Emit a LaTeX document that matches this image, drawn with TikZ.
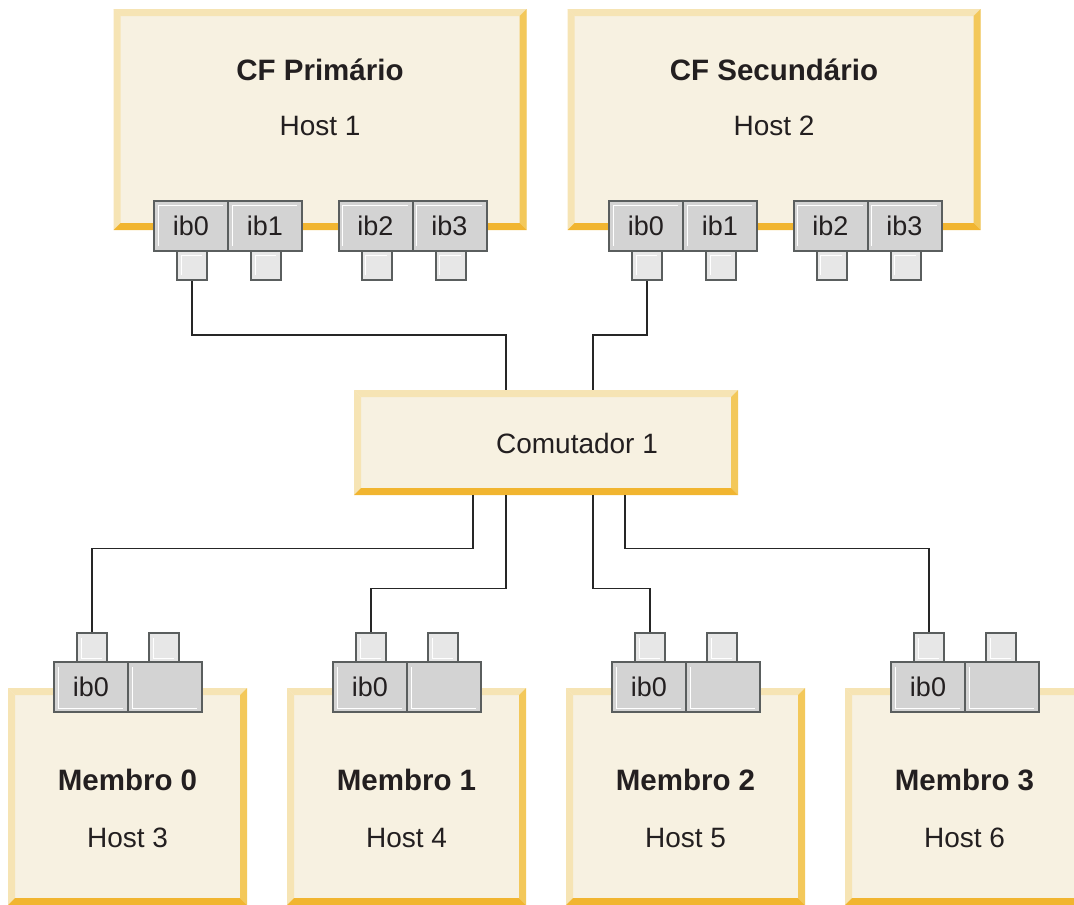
\documentclass[tikz,border=0pt]{standalone}
\usepackage{fontspec}
\setmainfont{Liberation Sans}
\usepackage{xcolor}
\usepackage{tikz}
\definecolor{bfill}{HTML}{F7F1E1}
\definecolor{blight}{HTML}{F6E4B4}
\definecolor{bright}{HTML}{F3C85A}
\definecolor{bdark}{HTML}{F1B530}
\definecolor{pfill}{HTML}{D3D3D3}
\definecolor{pline}{HTML}{5A5E5E}
\definecolor{qfill}{HTML}{E7E7E7}
\definecolor{txt}{HTML}{231F20}

\begin{document}
\begin{tikzpicture}[x=1pt, y=-1pt,
    font=\fontsize{28}{30}\selectfont, text=txt,
    box/.style={rectangle, inner sep=0pt, fill=bfill,
      path picture={
        \fill[blight] (path picture bounding box.north west) -- (path picture bounding box.north east)
          -- ([shift={(-7pt,-7pt)}]path picture bounding box.north east) -- ([shift={(7pt,-7pt)}]path picture bounding box.north west) -- cycle;
        \fill[blight] (path picture bounding box.north west) -- ([shift={(7pt,-7pt)}]path picture bounding box.north west)
          -- ([shift={(7pt,7pt)}]path picture bounding box.south west) -- (path picture bounding box.south west) -- cycle;
        \fill[bright] (path picture bounding box.north east) -- (path picture bounding box.south east)
          -- ([shift={(-7pt,7pt)}]path picture bounding box.south east) -- ([shift={(-7pt,-7pt)}]path picture bounding box.north east) -- cycle;
        \fill[bdark] (path picture bounding box.south west) -- (path picture bounding box.south east)
          -- ([shift={(-7pt,7pt)}]path picture bounding box.south east) -- ([shift={(7pt,7pt)}]path picture bounding box.south west) -- cycle;}},
    cfbox/.style={box, minimum width=413pt, minimum height=221pt},
    mbox/.style={box, minimum width=239pt, minimum height=217pt},
    swbox/.style={box, minimum width=384pt, minimum height=105pt},
    port/.style={rectangle, inner sep=0pt, minimum width=74pt, minimum height=50pt,
                 fill=pfill, draw=pline, line width=2pt, font=\fontsize{27}{29}\selectfont},
    plug/.style={rectangle, inner sep=0pt, minimum width=30pt, minimum height=29pt,
                 fill=qfill, draw=pline, line width=2pt},
    hiup/.style={path picture={\draw[white, line width=1pt]
        ([shift={(4pt,5pt)}]path picture bounding box.south west) |- ([shift={(-5pt,-4pt)}]path picture bounding box.north east);}},
    hidn/.style={path picture={\draw[white, line width=1pt]
        ([shift={(4pt,-5pt)}]path picture bounding box.north west) |- ([shift={(-5pt,4pt)}]path picture bounding box.south east);}},
    title/.style={font=\bfseries\fontsize{29.5}{31}\selectfont},
    wire/.style={line width=1.3pt, black!85}]

    \clip (0,0) rectangle (1074,905);

    % --- CF hosts ---------------------------------------------------------
    \node[cfbox] (h1) at (320,119.5) {};
    \node[title] (h1t) at (320,70) {CF Primário};
    \node (h1h) at (320,126) {Host 1};
    \node[cfbox] (h2) at (774,119.5) {};
    \node[title] (h2t) at (774,70) {CF Secundário};
    \node (h2h) at (774,126) {Host 2};

    % ports of host 1
    \node[port, hiup] (h1p0) at (191,226) {ib0};
    \node[port, hiup] (h1p1) at (265,226) {ib1};
    \node[port, hiup] (h1p2) at (375.5,226) {ib2};
    \node[port, hiup] (h1p3) at (449.5,226) {ib3};
    \node[plug, hiup] (h1s0) at (192,265.5) {};
    \node[plug, hiup] (h1s1) at (266,265.5) {};
    \node[plug, hiup] (h1s2) at (376.5,265.5) {};
    \node[plug, hiup] (h1s3) at (450.5,265.5) {};
    % ports of host 2
    \node[port, hiup] (h2p0) at (646,226) {ib0};
    \node[port, hiup] (h2p1) at (720,226) {ib1};
    \node[port, hiup] (h2p2) at (830.5,226) {ib2};
    \node[port, hiup] (h2p3) at (904.5,226) {ib3};
    \node[plug, hiup] (h2s0) at (647,265.5) {};
    \node[plug, hiup] (h2s1) at (721,265.5) {};
    \node[plug, hiup] (h2s2) at (831.5,265.5) {};
    \node[plug, hiup] (h2s3) at (905.5,265.5) {};

    % --- switch -----------------------------------------------------------
    \node[swbox] (sw) at (546,442.5) {};
    \node (swt) at (577,443) {Comutador 1};

    % --- members ----------------------------------------------------------
    \node[mbox] (m0) at (127.5,796.5) {};
    \node[title] (m0t) at (127.5,780) {Membro 0};
    \node (m0h) at (127.5,838) {Host 3};
    \node[mbox] (m1) at (406.5,796.5) {};
    \node[title] (m1t) at (406.5,780) {Membro 1};
    \node (m1h) at (406.5,838) {Host 4};
    \node[mbox] (m2) at (685.5,796.5) {};
    \node[title] (m2t) at (685.5,780) {Membro 2};
    \node (m2h) at (685.5,838) {Host 5};
    \node[mbox] (m3) at (964.5,796.5) {};
    \node[title] (m3t) at (964.5,780) {Membro 3};
    \node (m3h) at (964.5,838) {Host 6};

    % member ports
    \node[port, hidn] (m0p0) at (91,687) {ib0};
    \node[port, hidn] (m0p1) at (165,687) {};
    \node[plug, hidn] (m0s0) at (92,647.5) {};
    \node[plug, hidn] (m0s1) at (164,647.5) {};
    \node[port, hidn] (m1p0) at (370,687) {ib0};
    \node[port, hidn] (m1p1) at (444,687) {};
    \node[plug, hidn] (m1s0) at (371,647.5) {};
    \node[plug, hidn] (m1s1) at (443,647.5) {};
    \node[port, hidn] (m2p0) at (649,687) {ib0};
    \node[port, hidn] (m2p1) at (723,687) {};
    \node[plug, hidn] (m2s0) at (650,647.5) {};
    \node[plug, hidn] (m2s1) at (722,647.5) {};
    \node[port, hidn] (m3p0) at (928,687) {ib0};
    \node[port, hidn] (m3p1) at (1002,687) {};
    \node[plug, hidn] (m3s0) at (929,647.5) {};
    \node[plug, hidn] (m3s1) at (1001,647.5) {};

    % --- cabling ----------------------------------------------------------
    \draw[wire] (h1s0.south) -- ++(0,54) -| ([xshift=-40pt]sw.north);
    \draw[wire] (h2s0.south) -- ++(0,54) -| ([xshift=47pt]sw.north);
    \draw[wire] ([xshift=-73pt]sw.south) -- ++(0,53) -| (m0s0.north);
    \draw[wire] ([xshift=-40pt]sw.south) -- ++(0,93) -| (m1s0.north);
    \draw[wire] ([xshift=47pt]sw.south) -- ++(0,93) -| (m2s0.north);
    \draw[wire] ([xshift=79pt]sw.south) -- ++(0,53) -| (m3s0.north);
  \end{tikzpicture}
\end{document}
